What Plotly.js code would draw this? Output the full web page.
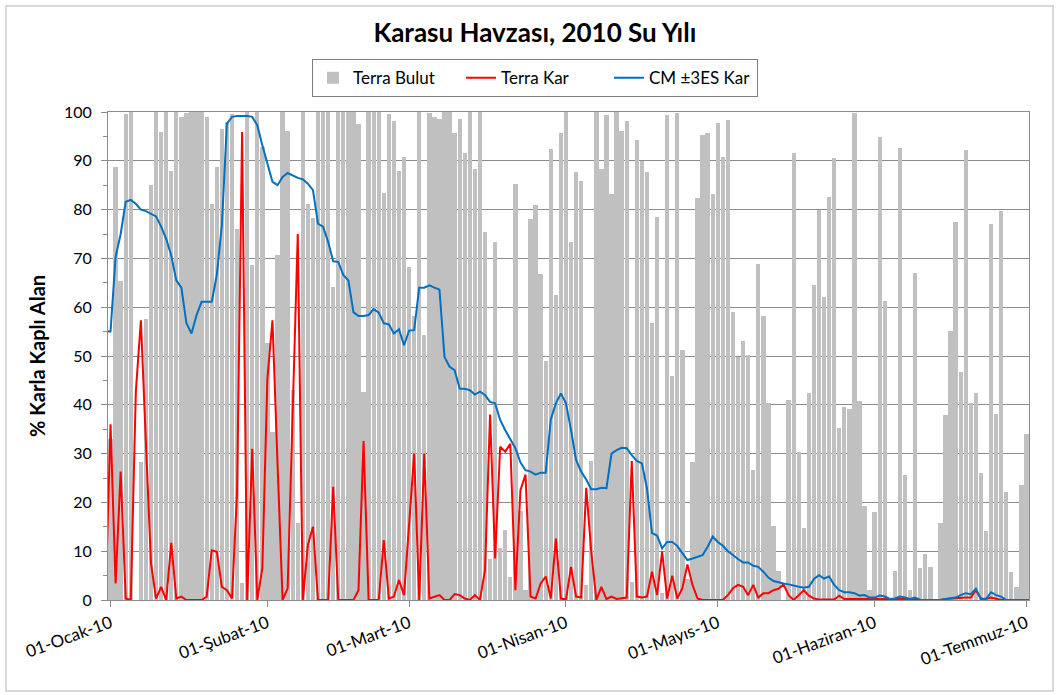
<!DOCTYPE html>
<html>
<head>
<meta charset="utf-8">
<script src="https://cdn.plot.ly/plotly-3.0.1.min.js"></script>
<style>
  html, body { margin: 0; padding: 0; background: #ffffff; }
  #wrap { position: relative; width: 1057px; height: 695px; }
  #chart { position: absolute; left: 0; top: 0; width: 1057px; height: 695px; }
  #frame { position: absolute; left: 5px; top: 5px; width: 1045px; height: 683px;
           border: 2px solid #d9d9d9; pointer-events: none; }
</style>
</head>
<body>
<div id="wrap"><div id="chart"></div><div id="frame"></div></div>
<script>
// Daily series, 31 Dec 2009 .. 02 Jul 2010 (first and last day fall at the clipped edges)
const startDay = '2009-12-31';

const terraBulut = [null,
  33, 88.7, 65.3, 99.5, 100, 0, 28.2, 57.5, 85, 100, 96, 100, 88, 100, 99, 99.7, 100,
  100, 100, 99, 81.2, 88.7, 96.6, 98, 99.5, 76, 3.4, 100, 68.6, 100, 92.8, 52.6, 34.5, 70.6,
  100, 96.2, 43, 15.7, 100, 81.2, 78.2, 100, 100, 100, 64.2, 100, 100, 100, 100, 97.5, 42.7, 100,
  100, 100, 83.5, 99.5, 98.2, 88, 90.8, 68.3, 58.2, 100, 54.3, 99.7, 99, 98.6, 100, 100, 95.8, 98.5,
  91.5, 100, 88.4, 100, 75.4, 8.5, 73.4, 10.6, 14.3, 4.8, 85.2, 18.2, 2, 78, 80.9, 66.8, 49, 92.5,
  62.5, 95.8, 100, 73.4, 87.7, 85.8, 3.1, 28.5, 100, 88.4, 99.3, 83.3, 100, 96.2, 98.2, 3.6, 94.2, 90,
  87.7, 56.7, 78.5, 1.4, 99.3, 45.9, 99.7, 51.2, 4.4, 28.2, 82.3, 95.2, 95.6, 83.3, 97.8, 90.8, 98.3, 59,
  49.8, 53, 50.2, 26.6, 68.8, 58.2, 40.4, 15.2, 5.9, 0, 41, 91.7, 30.4, 14.7, 42.5, 64.5, 79.9, 62.1,
  82.6, 90.6, 35.2, 39.6, 39.1, 99.7, 40.8, 19.3, 2, 18, 94.9, 61.3, 0, 6, 92.6, 25.6, 2,
  67, 6.6, 9.4, 6.8, 0, 15.7, 37.9, 55.2, 77.5, 46.8, 92.3, 40.3, 42.5, 26.1, 14.1, 77.1, 38.2, 79.7, 22.2, 5.8, 2.7, 23.5, 34.1,
  18];

const terraKar = [0,
  36, 3.4, 26.3, 0.3, 0, 42.7, 57.3, 32, 7.5, 0.3, 2.7, 0, 11.7, 0.3, 0.7, 0, 0,
  0, 0, 0.7, 10.2, 9.9, 2.7, 2, 0.3, 22, 95.9, 0, 31, 0, 6.5, 45.4, 57.3, 28,
  0, 2.4, 37.5, 75, 0, 11.3, 15, 0, 0, 0, 23.2, 0, 0, 0, 0, 2, 32.6, 0,
  0, 0, 12.3, 0.3, 0.7, 4.1, 1, 15.4, 30, 0, 30, 0.3, 0.7, 1, 0, 0, 1.2, 1,
  0.3, 0, 1, 0, 6.1, 38, 8.5, 31.4, 30.4, 32, 2, 22.5, 25.7, 0.7, 0.3, 3.4, 4.8, 0.3,
  12.6, 0.3, 0.1, 6.8, 0.7, 0.5, 23, 9.9, 0, 2.7, 0.2, 0.7, 0.2, 0.3, 0.5, 28.5, 0.7, 0.5,
  0.7, 5.8, 1, 9.9, 0.3, 5, 0.3, 2.4, 7.3, 3.1, 0.3, 0, 0, 0, 0, 0, 1, 2.4,
  3.1, 2.7, 1, 3.1, 0.5, 1.4, 1.4, 2, 2.3, 3.2, 1, 0, 1, 2, 0.9, 0.3, 0.1, 0.1,
  0.1, 0.1, 0.9, 0.2, 0.2, 0.2, 0.2, 0.2, 0.2, 0.2, 0.2, 0.2, 0.2, 0.2, 0.2, 0.2, 0.2,
  0.2, 0, 0, 0, 0, 0, 0.2, 0.3, 0.3, 0.4, 0.5, 0.5, 2, 0.3, 0.2, 0.5, 0.2, 0, 0, 0, 0, 0, 0,
  0];

const cmKar = [55,
  55, 70.3, 75, 81.6, 82, 81.2, 80, 79.7, 79.2, 78.6, 76.5, 74, 70.6, 65.5, 64, 56.7, 54.6,
  58.4, 61.1, 61.1, 61.1, 66.6, 76.8, 97.6, 99, 99.2, 99.2, 99.2, 99, 97.3, 93.2, 89.4, 85.7, 85,
  86.7, 87.5, 87, 86.5, 86.2, 85.3, 84, 77.1, 76.5, 73.4, 69.4, 69.3, 66.6, 65.5, 59, 58.2, 58.2, 58.4,
  59.6, 58.9, 56.7, 56.5, 54.6, 55.5, 52.2, 55.2, 55.3, 64, 64, 64.5, 64, 63.6, 49.8, 47.8, 47.1, 43.3,
  43.3, 43, 42.1, 42.7, 42, 40.6, 40.3, 36.9, 34.8, 32.9, 31.1, 28.2, 26.6, 26.3, 25.7, 26.1, 26.1, 37,
  40.3, 42.3, 40.3, 34.8, 28.7, 26.3, 24.7, 22.7, 22.7, 23, 22.9, 30, 30.7, 31.2, 31.1, 29.7, 28.5, 28,
  22.9, 13.7, 13.2, 10.6, 11.9, 11.9, 11.1, 9.6, 8.2, 8.5, 8.9, 9.2, 10.9, 13, 11.9, 11.1, 10, 9.1,
  8.4, 7.7, 7.7, 7, 6.8, 5.8, 4.6, 3.9, 3.6, 3.4, 3.2, 2.9, 2.7, 2.5, 2.7, 4.3, 5.1, 4.4,
  4.8, 3.1, 2, 1.6, 1.6, 1.4, 0.9, 1, 0.5, 0.5, 0.9, 0.7, 0.2, 0.3, 0.7, 0.5, 0.2,
  0.5, 0, 0, 0, 0, 0, 0.2, 0.3, 0.5, 1, 1.4, 1.2, 2.3, 0.2, 0.2, 1.6, 1, 0.7, 0, 0, 0, 0, 0,
  0];

const tickDates  = ['2010-01-01', '2010-02-01', '2010-03-01', '2010-04-01', '2010-05-01', '2010-06-01', '2010-07-01'];
const tickLabels = ['01-Ocak-10', '01-Şubat-10', '01-Mart-10', '01-Nisan-10', '01-Mayıs-10', '01-Haziran-10', '01-Temmuz-10'];
const seriesNames = ['Terra Bulut', 'Terra Kar', 'CM ±3ES Kar'];

// build the day axis
const dates = [];
const t0 = Date.parse(startDay + 'T00:00:00Z');
for (let k = 0; k < terraBulut.length; k++) {
  dates.push(new Date(t0 + k * 86400000).toISOString().slice(0, 10));
}

const FONT = 'Lato, "Liberation Sans", sans-serif';
const GRID = '#8c8c8c';

const traces = [
  { type: 'bar', name: seriesNames[0], x: dates, y: terraBulut,
    width: 0.86 * 86400000, marker: { color: '#c0c0c0', line: { width: 0 } } },
  { type: 'scatter', mode: 'lines', name: seriesNames[1], x: dates, y: terraKar,
    line: { color: '#ff0000', width: 2 } },
  { type: 'scatter', mode: 'lines', name: seriesNames[2], x: dates, y: cmKar,
    line: { color: '#0070c0', width: 2 } }
];

const layout = {
  width: 1057, height: 695,
  margin: { l: 108, r: 28, t: 112, b: 95, pad: 0 },
  paper_bgcolor: '#ffffff', plot_bgcolor: '#ffffff',
  font: { family: FONT, color: '#000000', size: 16 },
  title: { text: '<b>Karasu Havzası, 2010 Su Yılı</b>', font: { family: FONT, size: 26, color: '#000' },
           x: 0.506, xanchor: 'center', y: 1 - 33 / 695, yanchor: 'middle', xref: 'container', yref: 'container' },
  showlegend: true,
  legend: { orientation: 'h', x: 0.4636, xanchor: 'center', y: 1.108, yanchor: 'top',
            bordercolor: '#7f7f7f', borderwidth: 1, bgcolor: '#ffffff',
            entrywidth: 103, entrywidthmode: 'pixels',
            font: { family: FONT, size: 17, color: '#000' }, traceorder: 'normal' },
  bargap: 0,
  xaxis: {
    type: 'date',
    range: ['2009-12-31 12:00', '2010-07-01 12:00'],
    tickmode: 'array', tickvals: tickDates, ticktext: tickLabels,
    tickangle: -20, ticks: 'outside', ticklen: 6, tickcolor: GRID,
    tickfont: { family: FONT, size: 17, color: '#000' },
    showline: true, linecolor: GRID, linewidth: 1, mirror: true,
    showgrid: false, zeroline: false, fixedrange: true
  },
  yaxis: {
    range: [0, 100], dtick: 10, tick0: 0,
    ticks: 'outside', ticklen: 6, tickcolor: GRID,
    minor: { dtick: 5, ticks: 'outside', ticklen: 4, tickcolor: GRID, showgrid: false },
    ticklabelstandoff: 6,
    tickfont: { family: FONT, size: 16, color: '#000' },
    showline: true, linecolor: GRID, linewidth: 1, mirror: true,
    showgrid: true, gridcolor: GRID, gridwidth: 1, zeroline: false,
    title: { text: '<b>% Karla Kaplı Alan</b>', font: { family: FONT, size: 20, color: '#000' }, standoff: 12 },
    fixedrange: true
  }
};

Plotly.newPlot('chart', traces, layout, { displayModeBar: false, staticPlot: true });
</script>
</body>
</html>
